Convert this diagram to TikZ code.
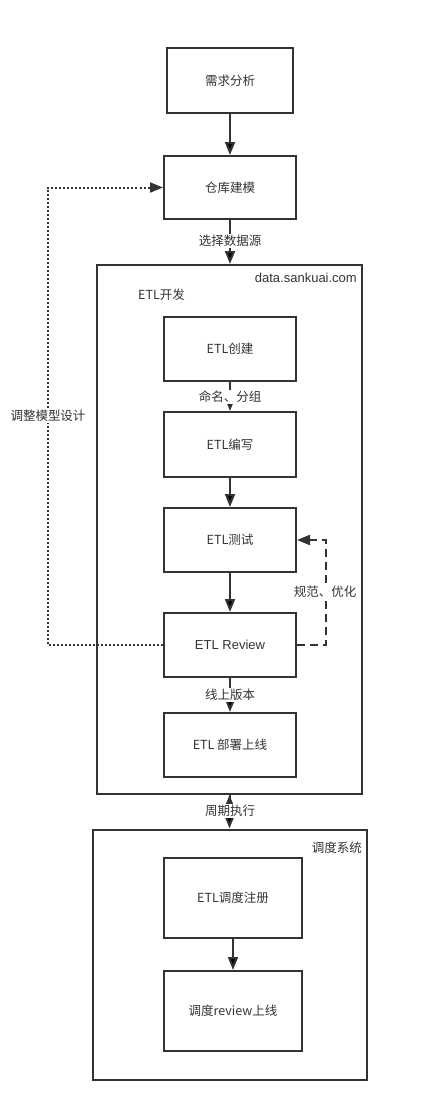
\documentclass[tikz,border=0pt]{standalone}
\usepackage{fontspec}
\setmainfont{Noto Sans CJK SC}
\newfontfamily\latinsf{Liberation Sans}
\usepackage{tikz}
\usetikzlibrary{arrows.meta}
\definecolor{linegray}{HTML}{333333}
\tikzstyle{task}=[rectangle,line width=2pt,draw=linegray,text=linegray,
minimum width=132pt,minimum height=64pt,inner sep=0pt]
\tikzstyle{system}=[rectangle,line width=2pt,draw=linegray,inner sep=0pt]
\tikzstyle{flowlabel}=[fill=white,text=linegray,inner sep=1pt]
\tikzstyle{tag}=[text=linegray,inner sep=0pt]

\begin{document}
\begin{tikzpicture}[x=1pt,y=-1pt,>={Triangle[length=13pt,width=10pt]},
    font=\fontsize{12.5}{15}\selectfont]
    \useasboundingbox (0,0) rectangle (421,1112);
    % top: requirements and modelling
    \node (req)   [task,minimum width=126pt,minimum height=65pt] at (230,80.5) {需求分析};
    \node (model) [task,minimum height=63pt] at (230,187.5) {仓库建模};
    % ETL development frame
    \node (etlsys) [system,minimum width=265pt,minimum height=529pt] at (229.5,529.5) {};
    \node (site)   [tag,anchor=east] at (357,278) {\latinsf\fontsize{13}{15}\selectfont data.sankuai.com};
    \node (etldev) [tag,anchor=west] at (138,295) {ETL开发};
    \node (create) [task] at (230,349) {ETL创建};
    \node (write)  [task,minimum height=65pt] at (230,444.5) {ETL编写};
    \node (test)   [task] at (230,540) {ETL测试};
    \node (review) [task] at (230,645) {\latinsf\fontsize{13}{15}\selectfont ETL Review};
    \node (deploy) [task] at (230,745) {ETL~部署上线};
    % scheduling frame
    \node (sched)  [system,minimum width=274.5pt,minimum height=250.5pt] at (229.75,954.75) {};
    \node (schedname) [tag,anchor=east] at (362,848) {调度系统};
    \node (reg)    [task,minimum width=138pt,minimum height=80pt] at (233,898) {ETL调度注册};
    \node (online) [task,minimum width=138pt,minimum height=80pt] at (233,1011) {调度review上线};
    % The diagram elements are now connected through arrows:
    \path[->,line width=2pt,draw=linegray]
    (req)    edge (model)
    (write)  edge (test)
    (test)   edge (review)
    (reg)    edge (online)
    (model.south)  edge (model.south |- etlsys.north)
    (create) edge (write)
    (review) edge (deploy)
    (etlsys.south) edge (etlsys.south |- sched.north);
    \node (src)    [flowlabel] at (230,241) {选择数据源};
    \node (naming) [flowlabel] at (230,397) {命名、分组};
    \node (ver)    [flowlabel] at (230,695) {线上版本};
    \node (cycle)  [flowlabel] at (230,811) {周期执行};
    % feedback loops
    \coordinate (backl) at (48,645);
    \coordinate (backr) at (326,645);
    \draw[->,line width=2pt,draw=linegray,dash pattern=on 2pt off 2pt]
    (review.west) -- (backl) -- (backl |- model.west) -- (model.west);
    \draw[->,line width=2pt,draw=linegray,dash pattern=on 8pt off 5pt]
    (review.east) -- (backr) -- (backr |- test.east) -- (test.east);
    \node (redesign) [flowlabel] at (48,416) {调整模型设计};
    \node (tune)     [flowlabel] at (325,592) {规范、优化};
\end{tikzpicture}
\end{document}
